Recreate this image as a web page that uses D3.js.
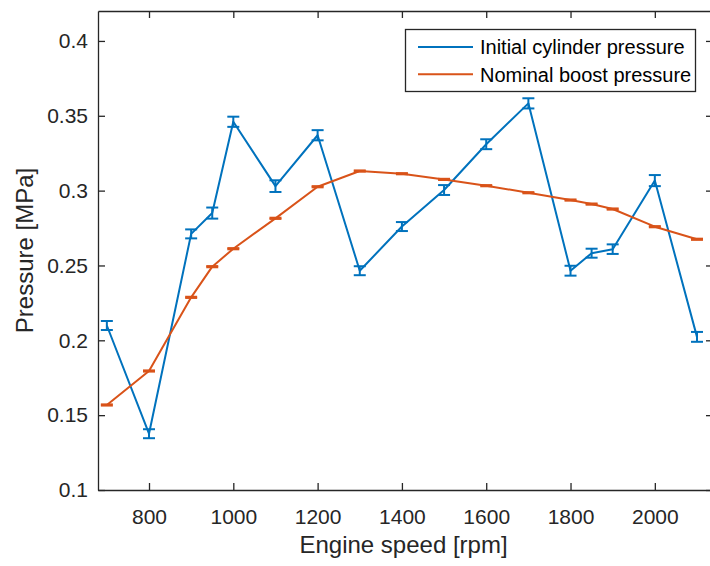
<!DOCTYPE html>
<html>
<head>
<meta charset="utf-8">
<script src="https://cdn.jsdelivr.net/npm/d3@7"></script>
<style>
  html, body { margin: 0; padding: 0; background: #fff; }
  svg { display: block; font-family: "Liberation Sans", Arial, Helvetica, sans-serif; }
  .axis path, .axis line { stroke: #262626; stroke-width: 1.3; }
  .axis text { fill: #262626; font-size: 21px; font-family: "Liberation Sans", Arial, sans-serif; }
</style>
</head>
<body>
<svg id="chart" width="710" height="566"></svg>
<script>
// Engine speed sweep [rpm]
const speeds = [700, 800, 900, 950, 1000, 1100, 1200, 1300, 1400, 1500, 1600, 1700, 1800, 1850, 1900, 2000, 2100];
// Initial cylinder pressure [MPa] and its spread
const cylinderPressure = [0.2099, 0.1376, 0.2711, 0.2850, 0.3460, 0.3030, 0.3370, 0.2465, 0.2760, 0.3004, 0.3310, 0.3583, 0.2465, 0.2582, 0.2609, 0.3067, 0.2023];
const cylinderError    = [0.0030, 0.0030, 0.0030, 0.0037, 0.0034, 0.0039, 0.0034, 0.0030, 0.0030, 0.0033, 0.0033, 0.0034, 0.0033, 0.0030, 0.0032, 0.0037, 0.0033];
// Nominal boost pressure [MPa] and its spread
const boostPressure = [0.1568, 0.1795, 0.2287, 0.2492, 0.2612, 0.2815, 0.3026, 0.3131, 0.3113, 0.3075, 0.3033, 0.2986, 0.2937, 0.2910, 0.2877, 0.2759, 0.2675];
const boostError    = [0.0004, 0.0004, 0.0004, 0.0004, 0.0004, 0.0004, 0.0004, 0.0004, 0.0004, 0.0004, 0.0004, 0.0004, 0.0004, 0.0004, 0.0004, 0.0004, 0.0004];

const xTicks = [800, 1000, 1200, 1400, 1600, 1800, 2000];
const yTicks = [0.1, 0.15, 0.2, 0.25, 0.3, 0.35, 0.4];
const yTickLabels = ["0.1", "0.15", "0.2", "0.25", "0.3", "0.35", "0.4"];

const seriesNames = ["Initial cylinder pressure", "Nominal boost pressure"];
const seriesColors = ["#0072BD", "#D95319"];

const svg = d3.select("#chart");
const plot = { left: 98, right: 713, top: 11, bottom: 490 };

const x = d3.scaleLinear().domain([679, 2138]).range([plot.left, plot.right]);
const y = d3.scaleLinear().domain([0.1, 0.42]).range([plot.bottom, plot.top]);

const tickLen = 7;

// Box axes with inward ticks on every side
svg.append("g").attr("class", "axis")
  .attr("transform", `translate(0,${plot.bottom})`)
  .call(d3.axisBottom(x).tickValues(xTicks).tickFormat(d3.format("d"))
    .tickSizeInner(-tickLen).tickSizeOuter(0).tickPadding(19));

svg.append("g").attr("class", "axis")
  .attr("transform", `translate(0,${plot.top})`)
  .call(d3.axisTop(x).tickValues(xTicks).tickFormat("")
    .tickSizeInner(-tickLen).tickSizeOuter(0));

svg.append("g").attr("class", "axis")
  .attr("transform", `translate(${plot.left},0)`)
  .call(d3.axisLeft(y).tickValues(yTicks).tickFormat((d, i) => yTickLabels[i])
    .tickSizeInner(-tickLen).tickSizeOuter(0).tickPadding(10));

svg.append("g").attr("class", "axis")
  .attr("transform", `translate(${plot.right},0)`)
  .call(d3.axisRight(y).tickValues(yTicks).tickFormat("")
    .tickSizeInner(-tickLen).tickSizeOuter(0));

// Axis titles
svg.append("text")
  .attr("x", (plot.left + 709) / 2).attr("y", 553)
  .attr("text-anchor", "middle")
  .attr("font-size", 24).attr("fill", "#262626")
  .text("Engine speed [rpm]");

svg.append("text")
  .attr("transform", `translate(33,${(plot.top + plot.bottom) / 2}) rotate(-90)`)
  .attr("text-anchor", "middle")
  .attr("font-size", 24).attr("fill", "#262626")
  .text("Pressure [MPa]");

// Series: line plus error bars with caps
const capHalf = 6;
function drawSeries(values, errors, color) {
  const g = svg.append("g");
  const line = d3.line().x((d, i) => x(speeds[i])).y(d => y(d));
  g.append("path").datum(values)
    .attr("d", line).attr("fill", "none")
    .attr("stroke", color).attr("stroke-width", 2)
    .attr("stroke-linejoin", "round");
  const bars = g.selectAll("g.err").data(values).join("g").attr("class", "err")
    .attr("stroke", color).attr("stroke-width", 2);
  bars.append("line")
    .attr("x1", (d, i) => x(speeds[i])).attr("x2", (d, i) => x(speeds[i]))
    .attr("y1", (d, i) => y(d - errors[i])).attr("y2", (d, i) => y(d + errors[i]));
  bars.append("line")
    .attr("x1", (d, i) => x(speeds[i]) - capHalf).attr("x2", (d, i) => x(speeds[i]) + capHalf)
    .attr("y1", (d, i) => y(d + errors[i])).attr("y2", (d, i) => y(d + errors[i]));
  bars.append("line")
    .attr("x1", (d, i) => x(speeds[i]) - capHalf).attr("x2", (d, i) => x(speeds[i]) + capHalf)
    .attr("y1", (d, i) => y(d - errors[i])).attr("y2", (d, i) => y(d - errors[i]));
}

drawSeries(cylinderPressure, cylinderError, seriesColors[0]);
drawSeries(boostPressure, boostError, seriesColors[1]);

// Legend
const legend = svg.append("g").attr("transform", "translate(405.5,29.5)");
legend.append("rect")
  .attr("width", 290).attr("height", 62)
  .attr("fill", "#fff").attr("stroke", "#262626").attr("stroke-width", 1.3);
seriesNames.forEach((name, i) => {
  const rowY = 17.5 + i * 27.3;
  legend.append("line")
    .attr("x1", 12.5).attr("x2", 67.5).attr("y1", rowY).attr("y2", rowY)
    .attr("stroke", seriesColors[i]).attr("stroke-width", 2);
  legend.append("text")
    .attr("x", 74.5).attr("y", rowY + 7.3)
    .attr("font-size", 20).attr("fill", "#000")
    .text(name);
});
</script>
</body>
</html>
